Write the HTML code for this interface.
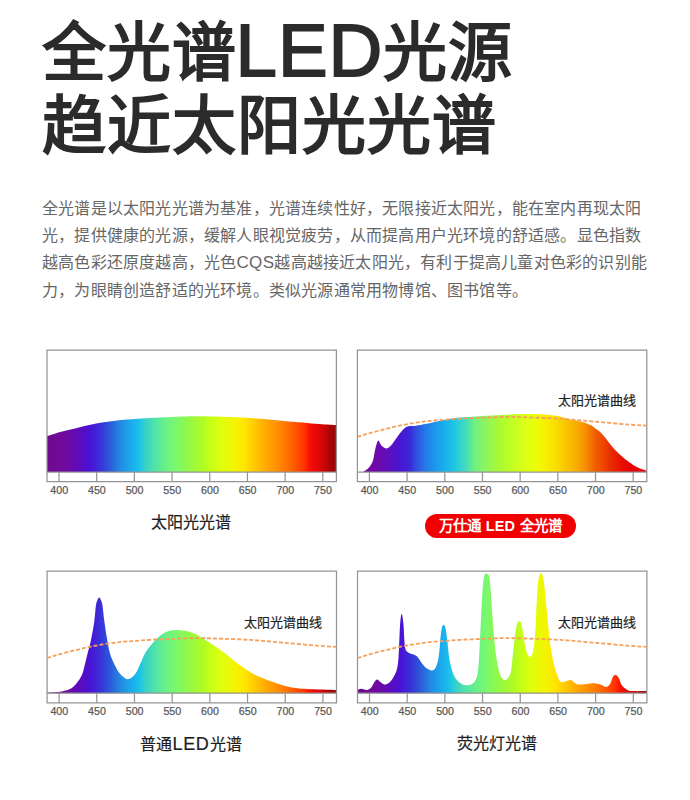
<!DOCTYPE html>
<html lang="zh-CN"><head><meta charset="utf-8"><title>全光谱LED光源</title>
<style>
html,body{margin:0;padding:0;background:#fff;}
body{width:690px;height:800px;position:relative;overflow:hidden;font-family:"Liberation Sans",sans-serif;}
.t{position:absolute;left:42px;font-size:64px;font-weight:bold;color:#2b2b2b;white-space:nowrap;line-height:1;letter-spacing:1px;}
.led{line-height:0;font-size:74.5px;position:relative;top:1.3px;font-weight:normal;-webkit-text-stroke:1.8px #2b2b2b;letter-spacing:1px;margin-left:-1.5px;}
.p{position:absolute;left:42px;top:194.5px;font-size:16px;line-height:27.4px;color:#666;white-space:nowrap;letter-spacing:0.2px;}
.cap{position:absolute;font-size:16px;color:#1e1e1e;white-space:nowrap;text-align:center;line-height:1;-webkit-text-stroke:0.2px #1e1e1e;}
.cap b{font-weight:normal;font-size:18px;letter-spacing:0.7px;}
.pill{position:absolute;left:425px;top:514px;width:151px;height:24px;border-radius:12px;background:#f00000;color:#fff;font-weight:bold;font-size:14.5px;line-height:25px;letter-spacing:0.2px;text-align:center;white-space:nowrap;}
svg text{font-family:"Liberation Sans",sans-serif;}
.ax text{font-size:10.7px;fill:#5a5a5a;stroke:#5a5a5a;stroke-width:0.25px;text-anchor:middle;}
.sl{font-size:13px;fill:#1e1e1e;stroke:#1e1e1e;stroke-width:0.2px;}
</style></head><body>
<div class="t" style="top:20.5px">全光谱<span class="led">LED</span>光源</div>
<div class="t" style="top:94px">趋近太阳光光谱</div>
<div class="p">全光谱是以太阳光光谱为基准，光谱连续性好，无限接近太阳光，能在室内再现太阳<br>光，提供健康的光源，缓解人眼视觉疲劳，从而提高用户光环境的舒适感。显色指数<br>越高色彩还原度越高，光色<span style="font-size:17px;letter-spacing:0.4px">CQS</span>越高越接近太阳光，有利于提高儿童对色彩的识别能<br>力，为眼睛创造舒适的光环境。类似光源通常用物博馆、图书馆等。</div>
<svg width="690" height="800" viewBox="0 0 690 800" style="position:absolute;left:0;top:0"><defs><linearGradient id="g1" gradientUnits="userSpaceOnUse" x1="46.00" y1="0" x2="336.00" y2="0"><stop offset="0.00%" stop-color="#6c0a8c"/><stop offset="4.83%" stop-color="#720a9a"/><stop offset="8.28%" stop-color="#6a0aa8"/><stop offset="11.72%" stop-color="#5a0cbe"/><stop offset="15.17%" stop-color="#4a12d4"/><stop offset="18.62%" stop-color="#3a30d8"/><stop offset="22.07%" stop-color="#2c5ad8"/><stop offset="25.52%" stop-color="#2488e0"/><stop offset="28.97%" stop-color="#1aa8ec"/><stop offset="32.41%" stop-color="#1cc4e8"/><stop offset="34.14%" stop-color="#38d0c8"/><stop offset="37.59%" stop-color="#50e4a8"/><stop offset="41.03%" stop-color="#68f088"/><stop offset="44.48%" stop-color="#78f870"/><stop offset="47.93%" stop-color="#8cf850"/><stop offset="51.38%" stop-color="#a0f838"/><stop offset="54.83%" stop-color="#b4fc20"/><stop offset="56.55%" stop-color="#c4ff18"/><stop offset="60.00%" stop-color="#dcff10"/><stop offset="65.17%" stop-color="#f4f400"/><stop offset="68.62%" stop-color="#ffe400"/><stop offset="72.07%" stop-color="#ffc800"/><stop offset="75.52%" stop-color="#ffac00"/><stop offset="78.97%" stop-color="#ff9400"/><stop offset="82.41%" stop-color="#ff7800"/><stop offset="85.86%" stop-color="#ff5800"/><stop offset="89.31%" stop-color="#ff3000"/><stop offset="91.03%" stop-color="#f81000"/><stop offset="92.76%" stop-color="#e80808"/><stop offset="94.48%" stop-color="#d80808"/><stop offset="96.21%" stop-color="#c80404"/><stop offset="97.93%" stop-color="#a80404"/><stop offset="100.00%" stop-color="#980808"/></linearGradient><linearGradient id="g2" gradientUnits="userSpaceOnUse" x1="357.00" y1="0" x2="647.00" y2="0"><stop offset="0.00%" stop-color="#700898"/><stop offset="5.17%" stop-color="#7008a0"/><stop offset="7.93%" stop-color="#6a0ab0"/><stop offset="11.38%" stop-color="#5a10c0"/><stop offset="14.83%" stop-color="#4a14d0"/><stop offset="18.28%" stop-color="#3a28d8"/><stop offset="20.00%" stop-color="#3448e0"/><stop offset="23.45%" stop-color="#2478e8"/><stop offset="26.90%" stop-color="#1c98ec"/><stop offset="30.34%" stop-color="#18b0ee"/><stop offset="33.79%" stop-color="#20c8e0"/><stop offset="37.24%" stop-color="#40dcc0"/><stop offset="40.69%" stop-color="#70f080"/><stop offset="44.14%" stop-color="#8cf460"/><stop offset="47.59%" stop-color="#a0f840"/><stop offset="51.03%" stop-color="#b4fc28"/><stop offset="54.48%" stop-color="#c8ff20"/><stop offset="57.93%" stop-color="#dcff18"/><stop offset="61.38%" stop-color="#eaff08"/><stop offset="64.83%" stop-color="#f8f000"/><stop offset="68.28%" stop-color="#f8e000"/><stop offset="71.72%" stop-color="#f8c800"/><stop offset="75.17%" stop-color="#f8b000"/><stop offset="78.62%" stop-color="#f89000"/><stop offset="82.07%" stop-color="#f06000"/><stop offset="83.79%" stop-color="#f05000"/><stop offset="87.24%" stop-color="#e83000"/><stop offset="90.69%" stop-color="#e81400"/><stop offset="94.14%" stop-color="#e80008"/><stop offset="100.00%" stop-color="#e80010"/></linearGradient><linearGradient id="g3" gradientUnits="userSpaceOnUse" x1="46.10" y1="0" x2="336.10" y2="0"><stop offset="0.00%" stop-color="#6c0a8c"/><stop offset="4.83%" stop-color="#720a9a"/><stop offset="8.28%" stop-color="#6a0aa8"/><stop offset="11.72%" stop-color="#5a0cbe"/><stop offset="15.17%" stop-color="#4a12d4"/><stop offset="18.62%" stop-color="#3a30d8"/><stop offset="22.07%" stop-color="#2c5ad8"/><stop offset="25.52%" stop-color="#2488e0"/><stop offset="28.97%" stop-color="#1aa8ec"/><stop offset="32.41%" stop-color="#1cc4e8"/><stop offset="34.14%" stop-color="#38d0c8"/><stop offset="37.59%" stop-color="#50e4a8"/><stop offset="41.03%" stop-color="#68f088"/><stop offset="44.48%" stop-color="#78f870"/><stop offset="47.93%" stop-color="#8cf850"/><stop offset="51.38%" stop-color="#a0f838"/><stop offset="54.83%" stop-color="#b4fc20"/><stop offset="56.55%" stop-color="#c4ff18"/><stop offset="60.00%" stop-color="#dcff10"/><stop offset="65.17%" stop-color="#f4f400"/><stop offset="68.62%" stop-color="#ffe400"/><stop offset="72.07%" stop-color="#ffc800"/><stop offset="75.52%" stop-color="#ffac00"/><stop offset="78.97%" stop-color="#ff9400"/><stop offset="82.41%" stop-color="#ff7800"/><stop offset="85.86%" stop-color="#ff5800"/><stop offset="89.31%" stop-color="#ff3000"/><stop offset="91.03%" stop-color="#f81000"/><stop offset="92.76%" stop-color="#e80808"/><stop offset="94.48%" stop-color="#d80808"/><stop offset="96.21%" stop-color="#c80404"/><stop offset="97.93%" stop-color="#a80404"/><stop offset="100.00%" stop-color="#980808"/></linearGradient><linearGradient id="g4" gradientUnits="userSpaceOnUse" x1="356.50" y1="0" x2="646.50" y2="0"><stop offset="0.00%" stop-color="#6c0a8c"/><stop offset="4.83%" stop-color="#720a9a"/><stop offset="8.28%" stop-color="#6a0aa8"/><stop offset="11.72%" stop-color="#5a0cbe"/><stop offset="15.17%" stop-color="#4a12d4"/><stop offset="18.62%" stop-color="#3a30d8"/><stop offset="22.07%" stop-color="#2c5ad8"/><stop offset="25.52%" stop-color="#2488e0"/><stop offset="28.97%" stop-color="#1aa8ec"/><stop offset="32.41%" stop-color="#1cc4e8"/><stop offset="34.14%" stop-color="#38d0c8"/><stop offset="37.59%" stop-color="#50e4a8"/><stop offset="41.03%" stop-color="#68f088"/><stop offset="44.48%" stop-color="#78f870"/><stop offset="47.93%" stop-color="#8cf850"/><stop offset="51.38%" stop-color="#a0f838"/><stop offset="54.83%" stop-color="#b4fc20"/><stop offset="56.55%" stop-color="#c4ff18"/><stop offset="60.00%" stop-color="#dcff10"/><stop offset="65.17%" stop-color="#f4f400"/><stop offset="68.62%" stop-color="#ffe400"/><stop offset="72.07%" stop-color="#ffc800"/><stop offset="75.52%" stop-color="#ffac00"/><stop offset="78.97%" stop-color="#ff9400"/><stop offset="82.41%" stop-color="#ff7800"/><stop offset="85.86%" stop-color="#ff5800"/><stop offset="89.31%" stop-color="#ff3000"/><stop offset="91.03%" stop-color="#f81000"/><stop offset="92.76%" stop-color="#e80808"/><stop offset="94.48%" stop-color="#d80808"/><stop offset="96.21%" stop-color="#c80404"/><stop offset="97.93%" stop-color="#a80404"/><stop offset="100.00%" stop-color="#980808"/></linearGradient></defs><path d="M47.00 472.00 L47.00 436.10 C48.43 435.65 52.23 434.37 55.60 433.40 C58.97 432.43 63.33 431.30 67.20 430.30 C71.07 429.30 74.93 428.33 78.80 427.40 C82.67 426.47 86.53 425.50 90.40 424.70 C94.27 423.90 98.13 423.23 102.00 422.60 C105.87 421.97 109.93 421.37 113.60 420.90 C117.27 420.43 120.43 420.12 124.00 419.80 C127.57 419.48 130.67 419.32 135.00 419.00 C139.33 418.68 143.83 418.23 150.00 417.90 C156.17 417.57 165.33 417.27 172.00 417.00 C178.67 416.73 185.33 416.43 190.00 416.30 C194.67 416.17 195.83 416.15 200.00 416.20 C204.17 416.25 206.67 416.30 215.00 416.60 C223.33 416.90 238.50 417.28 250.00 418.00 C261.50 418.72 272.50 419.92 284.00 420.90 C295.50 421.88 310.27 423.22 319.00 423.90 C327.73 424.58 333.50 424.82 336.40 425.00 L336.40 472.00 Z" fill="url(#g1)"/><g stroke="#949494" stroke-width="1.25" fill="none"><path d="M47.00 350.00 H336.40 V481.70 H47.00 Z"/><path d="M47.00 472.00 H336.40"/><path d="M59.00 472.00 V481.70"/><path d="M96.69 472.00 V481.70"/><path d="M134.37 472.00 V481.70"/><path d="M172.06 472.00 V481.70"/><path d="M209.74 472.00 V481.70"/><path d="M247.43 472.00 V481.70"/><path d="M285.11 472.00 V481.70"/><path d="M322.80 472.00 V481.70"/></g><g class="ax"><text x="59.20" y="493.80">400</text><text x="96.89" y="493.80">450</text><text x="134.57" y="493.80">500</text><text x="172.25" y="493.80">550</text><text x="209.94" y="493.80">600</text><text x="247.62" y="493.80">650</text><text x="285.31" y="493.80">700</text><text x="323.00" y="493.80">750</text></g><path d="M363.00 472.00 L363.00 471.90 C364.00 471.15 367.33 469.32 369.00 467.40 C370.67 465.48 372.05 463.02 373.00 460.40 C373.95 457.78 374.13 454.30 374.70 451.70 C375.27 449.10 375.78 446.65 376.40 444.80 C377.02 442.95 377.60 440.53 378.40 440.60 C379.20 440.67 379.93 443.90 381.20 445.20 C382.47 446.50 384.40 448.32 386.00 448.40 C387.60 448.48 389.13 447.32 390.80 445.70 C392.47 444.08 394.27 441.03 396.00 438.70 C397.73 436.37 399.60 433.58 401.20 431.70 C402.80 429.82 404.13 428.33 405.60 427.40 C407.07 426.47 408.27 426.38 410.00 426.10 C411.73 425.82 413.00 426.13 416.00 425.70 C419.00 425.27 421.67 424.73 428.00 423.50 C434.33 422.27 446.20 419.47 454.00 418.30 C461.80 417.13 465.53 417.15 474.80 416.50 C484.07 415.85 500.40 414.82 509.60 414.40 C518.80 413.98 523.77 413.93 530.00 414.00 C536.23 414.07 542.00 414.38 547.00 414.80 C552.00 415.22 556.17 415.72 560.00 416.50 C563.83 417.28 566.40 418.62 570.00 419.50 C573.60 420.38 578.12 420.83 581.60 421.80 C585.08 422.77 588.67 424.23 590.90 425.30 C593.13 426.37 593.65 427.25 595.00 428.20 C596.35 429.15 597.67 429.87 599.00 431.00 C600.33 432.13 601.67 433.48 603.00 435.00 C604.33 436.52 605.68 438.45 607.00 440.10 C608.32 441.75 609.58 443.30 610.90 444.90 C612.22 446.50 613.57 448.23 614.90 449.70 C616.23 451.17 617.57 452.43 618.90 453.70 C620.23 454.97 621.57 456.17 622.90 457.30 C624.23 458.43 625.57 459.50 626.90 460.50 C628.23 461.50 629.57 462.37 630.90 463.30 C632.23 464.23 633.58 465.32 634.90 466.10 C636.22 466.88 637.48 467.42 638.80 468.00 C640.12 468.58 641.47 469.13 642.80 469.60 C644.13 470.07 646.13 470.60 646.80 470.80 L646.80 472.00 Z" fill="url(#g2)"/><g stroke="#949494" stroke-width="1.25" fill="none"><path d="M357.40 350.00 H646.80 V481.70 H357.40 Z"/><path d="M357.40 472.00 H646.80"/><path d="M369.40 472.00 V481.70"/><path d="M407.08 472.00 V481.70"/><path d="M444.77 472.00 V481.70"/><path d="M482.45 472.00 V481.70"/><path d="M520.14 472.00 V481.70"/><path d="M557.83 472.00 V481.70"/><path d="M595.51 472.00 V481.70"/><path d="M633.19 472.00 V481.70"/></g><path d="M357.40 436.80 C358.83 436.35 362.63 435.07 366.00 434.10 C369.37 433.13 373.73 432.00 377.60 431.00 C381.47 430.00 385.33 429.03 389.20 428.10 C393.07 427.17 396.93 426.20 400.80 425.40 C404.67 424.60 408.53 423.93 412.40 423.30 C416.27 422.67 420.33 422.07 424.00 421.60 C427.67 421.13 430.83 420.82 434.40 420.50 C437.97 420.18 441.07 420.02 445.40 419.70 C449.73 419.38 454.23 418.93 460.40 418.60 C466.57 418.27 475.73 417.97 482.40 417.70 C489.07 417.43 495.73 417.13 500.40 417.00 C505.07 416.87 506.23 416.85 510.40 416.90 C514.57 416.95 517.07 417.00 525.40 417.30 C533.73 417.60 548.90 417.98 560.40 418.70 C571.90 419.42 582.90 420.62 594.40 421.60 C605.90 422.58 620.67 423.92 629.40 424.60 C638.13 425.28 643.90 425.52 646.80 425.70" fill="none" stroke="#f7a05a" stroke-width="1.8" stroke-dasharray="4 2"/><text class="sl" x="558.0" y="405.3">太阳光谱曲线</text><g class="ax"><text x="369.60" y="493.80">400</text><text x="407.28" y="493.80">450</text><text x="444.97" y="493.80">500</text><text x="482.65" y="493.80">550</text><text x="520.34" y="493.80">600</text><text x="558.03" y="493.80">650</text><text x="595.71" y="493.80">700</text><text x="633.39" y="493.80">750</text></g><path d="M47.10 693.20 L47.10 692.60 C49.25 692.45 56.18 692.28 60.00 691.70 C63.82 691.12 67.23 690.52 70.00 689.10 C72.77 687.68 74.63 685.50 76.60 683.20 C78.57 680.90 80.48 678.15 81.80 675.30 C83.12 672.45 83.52 669.82 84.50 666.10 C85.48 662.38 86.62 657.37 87.70 653.00 C88.78 648.63 89.90 645.15 91.00 639.90 C92.10 634.65 93.48 627.23 94.30 621.50 C95.12 615.77 95.35 609.12 95.90 605.50 C96.45 601.88 97.05 601.12 97.60 599.80 C98.15 598.48 98.67 597.60 99.20 597.60 C99.73 597.60 100.25 598.48 100.80 599.80 C101.35 601.12 101.93 602.10 102.50 605.50 C103.07 608.90 103.48 614.92 104.20 620.20 C104.92 625.48 105.83 631.65 106.80 637.20 C107.77 642.75 108.62 648.75 110.00 653.50 C111.38 658.25 113.42 662.32 115.10 665.70 C116.78 669.08 117.98 671.53 120.10 673.80 C122.22 676.07 125.25 679.30 127.80 679.30 C130.35 679.30 133.30 676.42 135.40 673.80 C137.50 671.18 138.72 667.15 140.40 663.60 C142.08 660.05 143.80 655.53 145.50 652.50 C147.20 649.47 148.90 647.52 150.60 645.40 C152.30 643.28 154.02 641.50 155.70 639.80 C157.38 638.10 158.85 636.55 160.70 635.20 C162.55 633.85 164.43 632.55 166.80 631.70 C169.17 630.85 172.70 630.33 174.90 630.10 C177.10 629.87 176.98 629.82 180.00 630.30 C183.02 630.78 188.50 631.22 193.00 633.00 C197.50 634.78 202.35 638.12 207.00 641.00 C211.65 643.88 215.83 646.58 220.90 650.30 C225.97 654.02 231.75 659.22 237.40 663.30 C243.05 667.38 249.00 671.73 254.80 674.80 C260.60 677.87 266.40 679.67 272.20 681.70 C278.00 683.73 283.80 685.78 289.60 687.00 C295.40 688.22 299.20 688.50 307.00 689.00 C314.80 689.50 331.50 689.83 336.40 690.00 L336.40 693.20 Z" fill="url(#g3)"/><g stroke="#949494" stroke-width="1.25" fill="none"><path d="M47.10 571.20 H336.50 V702.90 H47.10 Z"/><path d="M47.10 693.20 H336.50"/><path d="M59.10 693.20 V702.90"/><path d="M96.78 693.20 V702.90"/><path d="M134.47 693.20 V702.90"/><path d="M172.16 693.20 V702.90"/><path d="M209.84 693.20 V702.90"/><path d="M247.53 693.20 V702.90"/><path d="M285.21 693.20 V702.90"/><path d="M322.90 693.20 V702.90"/></g><path d="M47.10 658.00 C48.53 657.55 52.33 656.27 55.70 655.30 C59.07 654.33 63.43 653.20 67.30 652.20 C71.17 651.20 75.03 650.23 78.90 649.30 C82.77 648.37 86.63 647.40 90.50 646.60 C94.37 645.80 98.23 645.13 102.10 644.50 C105.97 643.87 110.03 643.27 113.70 642.80 C117.37 642.33 120.53 642.02 124.10 641.70 C127.67 641.38 130.77 641.22 135.10 640.90 C139.43 640.58 143.93 640.13 150.10 639.80 C156.27 639.47 165.43 639.17 172.10 638.90 C178.77 638.63 185.43 638.33 190.10 638.20 C194.77 638.07 195.93 638.05 200.10 638.10 C204.27 638.15 206.77 638.20 215.10 638.50 C223.43 638.80 238.60 639.18 250.10 639.90 C261.60 640.62 272.60 641.82 284.10 642.80 C295.60 643.78 310.37 645.12 319.10 645.80 C327.83 646.48 333.60 646.72 336.50 646.90" fill="none" stroke="#f7a05a" stroke-width="1.8" stroke-dasharray="4 2"/><text class="sl" x="244.1" y="626.5">太阳光谱曲线</text><g class="ax"><text x="59.30" y="715.00">400</text><text x="96.98" y="715.00">450</text><text x="134.67" y="715.00">500</text><text x="172.35" y="715.00">550</text><text x="210.04" y="715.00">600</text><text x="247.72" y="715.00">650</text><text x="285.41" y="715.00">700</text><text x="323.10" y="715.00">750</text></g><path d="M357.50 693.20 L357.50 690.00 C358.07 689.80 359.32 688.80 360.90 688.80 C362.48 688.80 365.27 690.20 367.00 690.00 C368.73 689.80 370.07 688.92 371.30 687.60 C372.53 686.28 373.43 683.47 374.40 682.10 C375.37 680.73 376.08 679.40 377.10 679.40 C378.12 679.40 379.32 681.25 380.50 682.10 C381.68 682.95 382.88 684.30 384.20 684.50 C385.52 684.70 386.98 684.32 388.40 683.30 C389.82 682.28 391.37 680.45 392.70 678.40 C394.03 676.35 395.48 673.85 396.40 671.00 C397.32 668.15 397.75 665.37 398.20 661.30 C398.65 657.23 398.78 652.73 399.10 646.60 C399.42 640.47 399.67 629.98 400.10 624.50 C400.53 619.02 401.13 613.70 401.70 613.70 C402.27 613.70 403.05 620.05 403.50 624.50 C403.95 628.95 404.05 636.22 404.40 640.40 C404.75 644.58 404.88 647.55 405.60 649.60 C406.32 651.65 407.15 651.78 408.70 652.70 C410.25 653.62 413.25 654.18 414.90 655.10 C416.55 656.02 417.38 656.77 418.60 658.20 C419.82 659.63 420.78 661.97 422.20 663.70 C423.62 665.43 425.47 667.48 427.10 668.60 C428.73 669.72 430.57 670.60 432.00 670.40 C433.43 670.20 434.57 669.73 435.70 667.40 C436.83 665.07 437.98 661.50 438.80 656.40 C439.62 651.30 440.05 641.70 440.60 636.80 C441.15 631.90 441.57 628.95 442.10 627.00 C442.63 625.05 443.23 624.90 443.80 625.10 C444.37 625.30 444.92 625.65 445.50 628.20 C446.08 630.75 446.68 635.50 447.30 640.40 C447.92 645.30 448.38 652.50 449.20 657.60 C450.02 662.70 450.98 667.33 452.20 671.00 C453.42 674.67 454.75 677.35 456.50 679.60 C458.25 681.85 460.62 683.58 462.70 684.50 C464.78 685.42 467.02 685.55 469.00 685.10 C470.98 684.65 473.12 683.98 474.60 681.80 C476.08 679.62 477.08 677.42 477.90 672.00 C478.72 666.58 478.97 658.50 479.50 649.30 C480.03 640.10 480.55 627.10 481.10 616.80 C481.65 606.50 482.25 594.42 482.80 587.50 C483.35 580.58 483.73 577.60 484.40 575.30 C485.07 573.00 485.98 573.42 486.80 573.70 C487.62 573.98 488.62 573.88 489.30 577.00 C489.98 580.12 490.37 585.77 490.90 592.40 C491.43 599.03 491.97 609.22 492.50 616.80 C493.03 624.38 493.42 630.87 494.10 637.90 C494.78 644.93 495.65 653.03 496.60 659.00 C497.55 664.97 498.45 670.17 499.80 673.70 C501.15 677.23 502.93 680.20 504.70 680.20 C506.47 680.20 509.12 677.23 510.40 673.70 C511.68 670.17 511.65 665.23 512.40 659.00 C513.15 652.77 514.08 642.25 514.90 636.30 C515.72 630.35 516.55 625.80 517.30 623.30 C518.05 620.80 518.67 621.03 519.40 621.30 C520.13 621.57 520.97 622.13 521.70 624.90 C522.43 627.67 523.03 633.57 523.80 637.90 C524.57 642.23 525.35 647.78 526.30 650.90 C527.25 654.02 528.42 656.32 529.50 656.60 C530.58 656.88 531.85 656.53 532.80 652.60 C533.75 648.67 534.53 641.68 535.20 633.00 C535.87 624.32 536.25 609.43 536.80 600.50 C537.35 591.57 537.82 583.95 538.50 579.40 C539.18 574.85 540.10 573.47 540.90 573.20 C541.70 572.93 542.62 574.60 543.30 577.80 C543.98 581.00 544.32 585.90 545.00 592.40 C545.68 598.90 546.60 608.67 547.40 616.80 C548.20 624.93 548.85 633.88 549.80 641.20 C550.75 648.52 551.87 655.02 553.10 660.70 C554.33 666.38 555.97 671.78 557.20 675.30 C558.43 678.82 559.27 680.72 560.50 681.80 C561.73 682.88 562.88 682.08 564.60 681.80 C566.32 681.52 569.07 679.87 570.80 680.10 C572.53 680.33 573.50 682.45 575.00 683.20 C576.50 683.95 576.70 684.60 579.80 684.60 C582.90 684.60 590.17 683.20 593.60 683.20 C597.03 683.20 598.35 683.98 600.40 684.60 C602.45 685.22 604.28 687.02 605.90 686.90 C607.52 686.78 608.95 685.55 610.10 683.90 C611.25 682.25 611.88 678.48 612.80 677.00 C613.72 675.52 614.63 674.88 615.60 675.00 C616.57 675.12 617.57 675.98 618.60 677.70 C619.63 679.42 620.47 683.35 621.80 685.30 C623.13 687.25 624.88 688.43 626.60 689.40 C628.32 690.37 628.72 690.82 632.10 691.10 C635.48 691.38 644.43 691.10 646.90 691.10 L646.90 693.20 Z" fill="url(#g4)"/><g stroke="#949494" stroke-width="1.25" fill="none"><path d="M357.50 571.20 H646.90 V702.90 H357.50 Z"/><path d="M357.50 693.20 H646.90"/><path d="M369.50 693.20 V702.90"/><path d="M407.19 693.20 V702.90"/><path d="M444.87 693.20 V702.90"/><path d="M482.56 693.20 V702.90"/><path d="M520.24 693.20 V702.90"/><path d="M557.92 693.20 V702.90"/><path d="M595.61 693.20 V702.90"/><path d="M633.30 693.20 V702.90"/></g><path d="M357.50 658.00 C358.93 657.55 362.73 656.27 366.10 655.30 C369.47 654.33 373.83 653.20 377.70 652.20 C381.57 651.20 385.43 650.23 389.30 649.30 C393.17 648.37 397.03 647.40 400.90 646.60 C404.77 645.80 408.63 645.13 412.50 644.50 C416.37 643.87 420.43 643.27 424.10 642.80 C427.77 642.33 430.93 642.02 434.50 641.70 C438.07 641.38 441.17 641.22 445.50 640.90 C449.83 640.58 454.33 640.13 460.50 639.80 C466.67 639.47 475.83 639.17 482.50 638.90 C489.17 638.63 495.83 638.33 500.50 638.20 C505.17 638.07 506.33 638.05 510.50 638.10 C514.67 638.15 517.17 638.20 525.50 638.50 C533.83 638.80 549.00 639.18 560.50 639.90 C572.00 640.62 583.00 641.82 594.50 642.80 C606.00 643.78 620.77 645.12 629.50 645.80 C638.23 646.48 644.00 646.72 646.90 646.90" fill="none" stroke="#f7a05a" stroke-width="1.8" stroke-dasharray="4 2"/><text class="sl" x="558.1" y="626.5">太阳光谱曲线</text><g class="ax"><text x="369.70" y="715.00">400</text><text x="407.38" y="715.00">450</text><text x="445.07" y="715.00">500</text><text x="482.75" y="715.00">550</text><text x="520.44" y="715.00">600</text><text x="558.12" y="715.00">650</text><text x="595.81" y="715.00">700</text><text x="633.50" y="715.00">750</text></g></svg>
<div class="cap" style="left:91px;width:200px;top:514.5px">太阳光光谱</div>
<div class="pill">万仕通 LED 全光谱</div>
<div class="cap" style="left:91px;width:200px;top:734.7px">普通<b>LED</b>光谱</div>
<div class="cap" style="left:397px;width:200px;top:735.5px">荧光灯光谱</div>
</body></html>
